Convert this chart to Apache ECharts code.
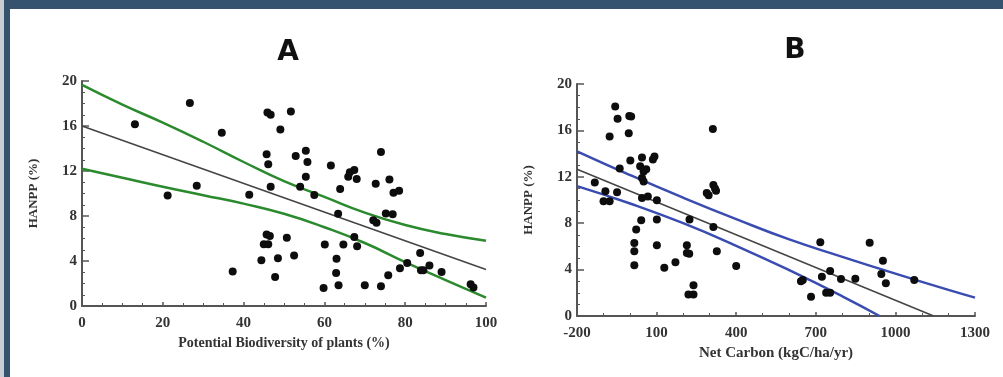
<!DOCTYPE html>
<html>
<head>
<meta charset="utf-8">
<script src="https://cdn.jsdelivr.net/npm/echarts@6/dist/echarts.min.js"></script>
<style>
  html, body { margin: 0; padding: 0; background: #fff; }
  #container { width: 1003px; height: 377px; }
</style>
</head>
<body>
<div id="container"></div>
<script>
// panel A: potential biodiversity (%) vs HANPP (%)
const bioPoints = [
  [13.1,16.15],[26.7,18.05],[21.2,9.83],[28.4,10.7],[34.6,15.4],[37.3,3.06],[41.4,9.9],
  [44.4,4.07],[45.7,13.5],[46.1,12.6],[45.9,17.2],[46.7,17.0],[46.7,10.6],[45.7,6.36],
  [46.5,6.23],[45.0,5.5],[46.1,5.5],[47.8,2.58],[48.5,4.25],[49.1,15.7],[51.7,17.3],
  [52.9,13.33],[55.4,13.8],[55.8,12.8],[55.4,11.5],[54.0,10.6],[57.5,9.86],[61.6,12.5],
  [63.9,10.4],[66.3,11.9],[67.4,12.1],[65.9,11.5],[68.0,11.3],[72.7,10.86],[76.1,11.25],
  [74.0,13.7],[77.1,10.06],[78.5,10.24],[63.4,8.2],[72.1,7.63],[72.9,7.4],[75.2,8.22],
  [76.9,8.16],[50.7,6.06],[52.5,4.5],[60.1,5.46],[64.7,5.46],[67.4,6.14],[68.1,5.32],
  [63.0,4.19],[62.9,2.94],[63.5,1.84],[59.8,1.6],[70.0,1.84],[74.0,1.75],[75.8,2.73],
  [78.7,3.36],[80.5,3.83],[83.7,4.72],[83.9,3.18],[84.5,3.18],[86.0,3.6],[89.0,3.03],
  [96.2,1.93],[96.9,1.64]
];
const bioFit = [[0,16.0],[100,3.25]];
const bioUpper = [[0,19.65],[10,17.9],[20,16.3],[30,14.6],[40,12.8],[50,11.1],[60,9.7],[70,8.3],[80,7.2],[90,6.4],[100,5.8]];
const bioLower = [[0,12.2],[10,11.4],[20,10.6],[30,9.85],[40,9.1],[50,8.2],[60,7.0],[70,5.6],[80,3.9],[90,2.3],[100,0.75]];

// panel B: net carbon (kgC/ha/yr) vs HANPP (%)
const carbonPoints = [
  [-133,11.5],[-100,9.9],[-77,9.9],[-93,10.75],[-49,10.66],[-56,18.05],[-47,17.0],[-77,15.47],
  [-39,12.72],[-3,17.25],[4,17.2],[-5,15.76],[1,13.4],[45,13.67],[38,12.9],[51,12.46],
  [61,12.66],[45,11.9],[51,11.6],[86,13.5],[92,13.75],[45,10.17],[67,10.3],[101,9.97],
  [101,8.31],[42,8.25],[23,7.45],[16,6.3],[16,5.59],[16,4.38],[101,6.1],[129,4.15],
  [171,4.64],[214,6.1],[214,5.44],[223,5.36],[224,8.31],[220,1.86],[239,1.86],[239,2.66],
  [289,10.6],[296,10.4],[314,11.3],[320,11.0],[324,10.8],[312,16.13],[314,7.68],[327,5.59],
  [400,4.3],[717,6.35],[903,6.32],[644,3.0],[651,3.1],[682,1.67],[723,3.39],[754,3.88],
  [739,2.0],[754,2.0],[795,3.19],[849,3.22],[953,4.77],[947,3.62],[964,2.82],[1071,3.1]
];
const carbonFit = [[-200,12.65],[1144,0]];
const carbonUpper = [[-200,14.2],[0,12.15],[200,10.2],[400,8.35],[600,6.6],[800,5.1],[1000,3.65],[1200,2.25],[1300,1.58]];
const carbonLower = [[-200,11.2],[0,9.7],[200,8.0],[400,6.05],[600,3.95],[800,1.7],[940,0]];

const yTicks = [0, 4, 8, 12, 16, 20];
const carbonMin = -200;   // axis B runs from 0..1500 internally, labels shifted back

const serif = '"Liberation Serif", "DejaVu Serif", serif';
const axisColor = '#555';
const shift = arr => arr.map(p => [p[0] - carbonMin, p[1]]);

let myChart = echarts.init(document.getElementById('container'));

function yAxis(gridIndex) {
  return {
    type: 'value', gridIndex: gridIndex, min: yTicks[0], max: yTicks[yTicks.length - 1], interval: 4,
    name: 'HANPP (%)', nameLocation: 'middle', nameGap: 42, nameRotate: 90,
    nameTextStyle: { fontFamily: serif, fontWeight: 'bold', fontSize: 13, color: '#333' },
    axisLine: { show: true, lineStyle: { color: axisColor, width: 2 } },
    axisTick: { show: true, inside: true, length: 7, lineStyle: { color: axisColor, width: 1.5 } },
    minorTick: { show: true, splitNumber: 4, length: 3, lineStyle: { color: axisColor } },
    splitLine: { show: false },
    axisLabel: { fontFamily: serif, fontWeight: 'bold', fontSize: 15, color: '#333', margin: 5 }
  };
}

function scatter(idx, data) {
  return { type: 'scatter', xAxisIndex: idx, yAxisIndex: idx, data: data, symbolSize: 8,
    itemStyle: { color: '#0d0d0d', opacity: 1 }, z: 3 };
}
function curve(idx, data, color, width) {
  return { type: 'line', xAxisIndex: idx, yAxisIndex: idx, data: data, smooth: true, symbol: 'none',
    lineStyle: { color: color, width: width }, z: 2 };
}

myChart.setOption({
  animation: false,
  backgroundColor: '#fff',
  title: [
    { text: 'A', left: 283, top: 34, textAlign: 'center',
      textStyle: { fontFamily: '"DejaVu Sans", sans-serif', fontWeight: 'bold', fontSize: 28, color: '#111' } },
    { text: 'B', left: 790, top: 32, textAlign: 'center',
      textStyle: { fontFamily: '"DejaVu Sans", sans-serif', fontWeight: 'bold', fontSize: 28, color: '#111' } }
  ],
  graphic: [
    { type: 'rect', shape: { x: 0, y: 0, width: 1003, height: 9 }, style: { fill: '#35526e' } },
    { type: 'rect', shape: { x: 0, y: 0, width: 4, height: 377 }, style: { fill: '#c9ced4' } },
    { type: 'rect', shape: { x: 4, y: 0, width: 6, height: 377 }, style: { fill: '#35526e' } }
  ],
  grid: [
    { left: 82, top: 81, width: 404, height: 225 },
    { left: 577, top: 84, width: 398, height: 232 }
  ],
  xAxis: [
    {
      type: 'value', gridIndex: 0, min: 0, max: 100, interval: 20,
      name: 'Potential Biodiversity of plants (%)', nameLocation: 'middle', nameGap: 29,
      nameTextStyle: { fontFamily: serif, fontWeight: 'bold', fontSize: 14, color: '#333' },
      axisLine: { show: true, lineStyle: { color: axisColor, width: 2 } },
      axisTick: { show: true, inside: true, length: 4, lineStyle: { color: axisColor, width: 1.5 } },
      minorTick: { show: true, splitNumber: 4, length: 3, lineStyle: { color: axisColor } },
      splitLine: { show: false },
      axisLabel: { fontFamily: serif, fontWeight: 'bold', fontSize: 15, color: '#333', margin: 10 }
    },
    {
      type: 'value', gridIndex: 1, min: 0, max: 1500, interval: 300,
      name: 'Net Carbon (kgC/ha/yr)', nameLocation: 'middle', nameGap: 29,
      nameTextStyle: { fontFamily: serif, fontWeight: 'bold', fontSize: 15, color: '#333' },
      axisLine: { show: true, lineStyle: { color: axisColor, width: 2 } },
      axisTick: { show: true, inside: true, length: 4, lineStyle: { color: axisColor, width: 1.5 } },
      minorTick: { show: true, splitNumber: 3, length: 3, lineStyle: { color: axisColor } },
      splitLine: { show: false },
      axisLabel: { fontFamily: serif, fontWeight: 'bold', fontSize: 15, color: '#333', margin: 10,
        formatter: v => String(v + carbonMin) }
    }
  ],
  yAxis: [yAxis(0), yAxis(1)],
  series: [
    curve(0, bioUpper, '#2b8a2e', 2.5),
    curve(0, bioLower, '#2b8a2e', 2.5),
    curve(0, bioFit, '#444', 1.5),
    scatter(0, bioPoints),
    curve(1, shift(carbonUpper), '#3a4cb0', 2.5),
    curve(1, shift(carbonLower), '#3a4cb0', 2.5),
    curve(1, shift(carbonFit), '#444', 1.5),
    scatter(1, shift(carbonPoints))
  ]
});
</script>
</body>
</html>
